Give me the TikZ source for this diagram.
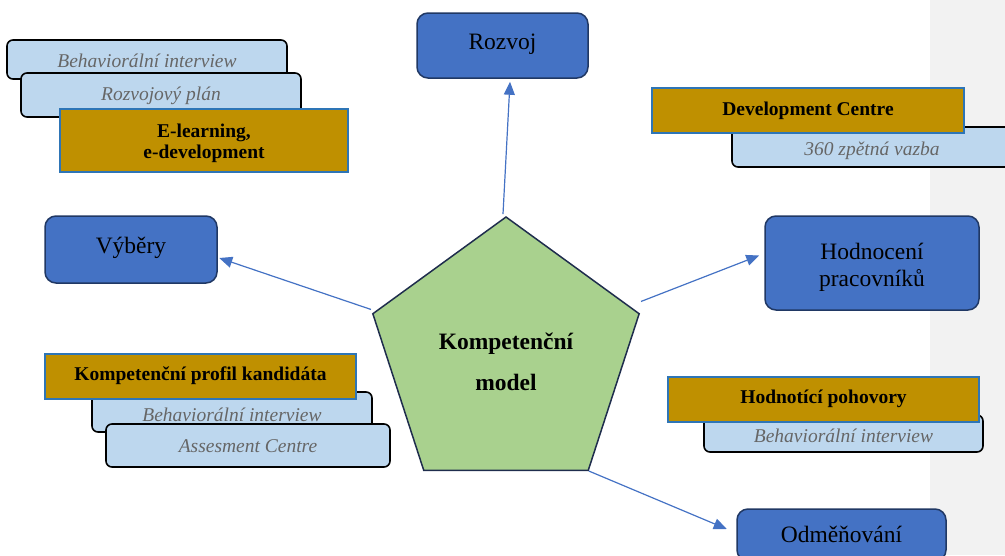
\documentclass[tikz,border=0pt]{standalone}
\usepackage{fontspec}
\setmainfont{Liberation Serif}
\usetikzlibrary{shapes.geometric,arrows.meta}
\definecolor{bigfill}{HTML}{4472C4}
\definecolor{bigdraw}{HTML}{203864}
\definecolor{ltblue}{HTML}{BDD7EE}
\definecolor{gold}{HTML}{BF9000}
\definecolor{goldedge}{HTML}{2E75B6}
\definecolor{pentfill}{HTML}{A9D18E}
\definecolor{pentdraw}{HTML}{1F2D4D}
\definecolor{txtgray}{HTML}{666666}
\definecolor{band}{HTML}{F2F2F2}
\definecolor{arrowc}{HTML}{4472C4}
% text block whose last baseline sits #1/2 below the node centre
\newcommand\boxtxt[2]{\raisebox{0pt}[#1][0pt]{\begin{tabular}[b]{@{}c@{}}#2\end{tabular}}}
\begin{document}
\begin{tikzpicture}[x=1pt,y=-1pt,
  bigbox/.style={draw=bigdraw, fill=bigfill, line width=1.5pt, rounded corners=11pt, inner sep=0pt,
    font=\fontsize{23.5}{27}\selectfont},
  subbox/.style={draw=black, fill=ltblue, line width=1.6pt, rounded corners=6pt, inner sep=0pt,
    text=txtgray, font=\fontsize{19.5}{22}\selectfont\itshape},
  keybox/.style={draw=goldedge, fill=gold, line width=1.5pt, inner sep=0pt,
    font=\fontsize{19.5}{21}\selectfont\bfseries},
  link/.style={draw=arrowc, line width=1.2pt, -{Triangle[length=13pt,width=11pt]}}
]
\clip (0,0) rectangle (1005,555);
\fill[band] (930,0) rectangle (1005,555);

% central pentagon
\node[regular polygon, regular polygon sides=5, minimum size=280pt, inner sep=0pt,
      draw=pentdraw, fill=pentfill, line width=1.5pt,
      font=\fontsize{23.5}{41}\selectfont\bfseries] (pent) at (506,357)
      {\boxtxt{66pt}{Kompetenční\\model}};

% main boxes
\node[bigbox, minimum width=171pt, minimum height=65pt] (rozvoj) at (502.5,45.5) {\boxtxt{7pt}{Rozvoj}};
\node[bigbox, minimum width=172pt, minimum height=67pt] (vybery) at (131,249.5) {\boxtxt{7pt}{Výběry}};
\node[bigbox, minimum width=214pt, minimum height=94pt] (hodnoceni) at (872,263) {\boxtxt{46pt}{Hodnocení\\pracovníků}};
\node[bigbox, minimum width=209pt, minimum height=52pt] (odmenovani) at (841.5,535) {\boxtxt{15.4pt}{Odměňování}};

% connectors
\draw[link] ([xshift=-3pt,yshift=2pt]pent.corner 1) -- ([xshift=7.5pt,yshift=-3pt]rozvoj.south);
\draw[link] ([xshift=-1pt,yshift=4pt]pent.corner 2) -- ([xshift=1.5pt,yshift=-8.5pt]vybery.east);
\draw[link] ([xshift=1pt,yshift=12pt]pent.corner 5) -- ([xshift=-5pt,yshift=7.5pt]hodnoceni.west);
\draw[link] (pent.corner 4) -- ([xshift=-9.5pt,yshift=6pt]odmenovani.west);

% top-left group
\node[subbox, minimum width=280pt, minimum height=39pt] (tlA) at (147,59.5) {\boxtxt{15.6pt}{Behaviorální interview}};
\node[subbox, minimum width=280pt, minimum height=44pt] (tlB) at (161,95) {\boxtxt{11.4pt}{Rozvojový plán}};
\node[keybox, minimum width=288pt, minimum height=63pt] (tlC) at (204,140.5) {\boxtxt{36.5pt}{E-learning,\\e-development}};

% top-right group
\node[subbox, minimum width=280pt, minimum height=40pt] (trA) at (872,147) {\boxtxt{16pt}{360 zpětná vazba}};
\node[keybox, minimum width=312pt, minimum height=45pt] (trB) at (808,110.5) {\boxtxt{9pt}{Development Centre}};

% bottom-left group
\node[subbox, minimum width=280pt, minimum height=40pt] (blA) at (232,412) {\boxtxt{19.4pt}{Behaviorální interview}};
\node[keybox, minimum width=311pt, minimum height=45pt] (blB) at (200.5,376.5) {\boxtxt{8.4pt}{Kompetenční profil kandidáta}};
\node[subbox, minimum width=284pt, minimum height=43pt] (blC) at (248,445.5) {\boxtxt{14.4pt}{Assesment Centre}};

% bottom-right group
\node[subbox, minimum width=279pt, minimum height=37pt] (brA) at (843.5,433.5) {\boxtxt{18.4pt}{Behaviorální interview}};
\node[keybox, minimum width=311pt, minimum height=45pt] (brB) at (823.5,399.5) {\boxtxt{7.6pt}{Hodnotící pohovory}};
\end{tikzpicture}
\end{document}
